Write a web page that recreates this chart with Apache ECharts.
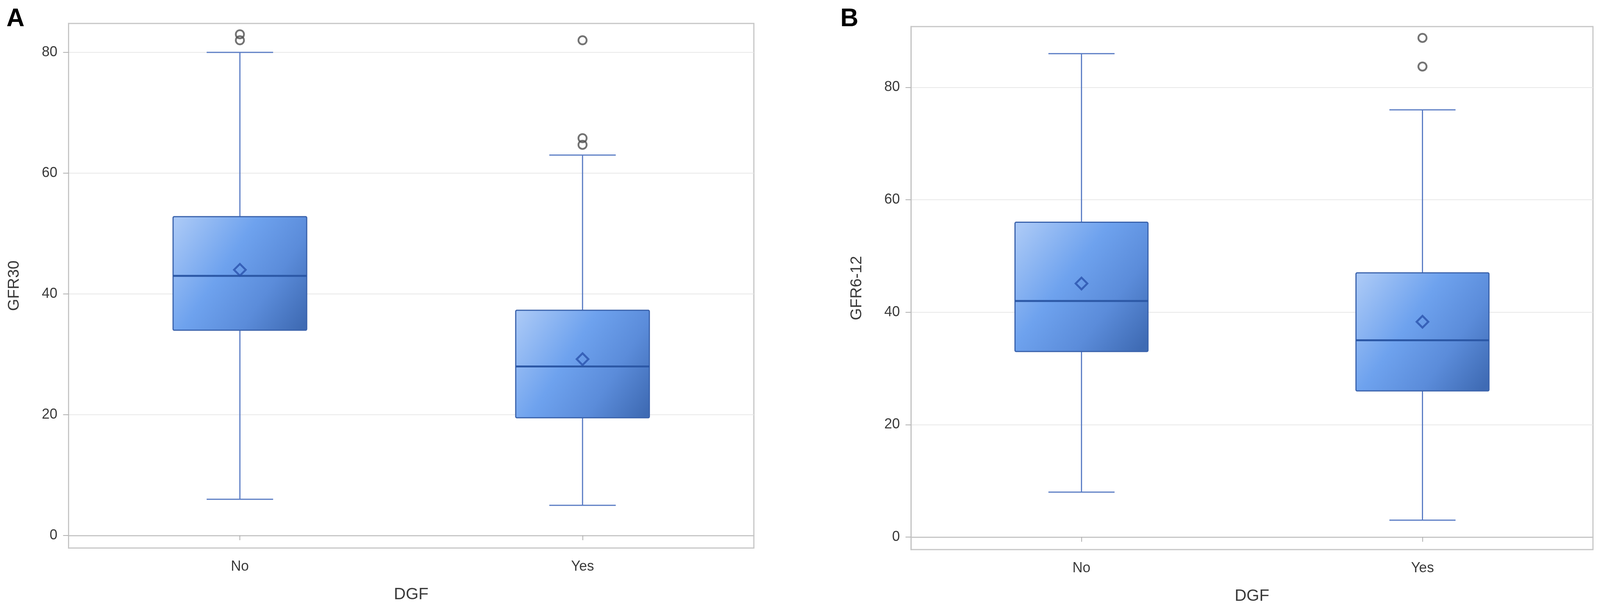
<!DOCTYPE html>
<html>
<head>
<meta charset="utf-8">
<script src="https://cdn.jsdelivr.net/npm/echarts@6/dist/echarts.min.js"></script>
<style>
html,body{margin:0;padding:0;background:#fff;overflow:hidden;}
#chart{width:100vw;height:100vh;}
</style>
</head>
<body>
<div id="chart"></div>
<script>
// ---- data ----
const categories = ['No', 'Yes'];
const yTickValues = [0, 20, 40, 60, 80];
// [lower whisker, Q1, median, Q3, upper whisker]
const gfr30Box = [[6, 34, 43, 52.8, 80], [5, 19.5, 28, 37.3, 63]];
const gfr30Mean = [44, 29.2];
const gfr30Outliers = [[0, 83], [0, 82], [1, 82], [1, 65.8], [1, 64.7]];
const gfr612Box = [[8, 33, 42, 56, 86], [3, 26, 35, 47, 76]];
const gfr612Mean = [45.1, 38.3];
const gfr612Outliers = [[1, 88.8], [1, 83.7]];

const textColor = '#3a3a3a';
const frameColor = '#c6c6c6';
const font = 'Liberation Sans, Arial, sans-serif';

const el = document.getElementById('chart');
const W = el.clientWidth || 4317, H = el.clientHeight || 1558;
const sx = W / 4317, sy = H / 1558;

function renderBox(params, api) {
  const x = api.value(0);
  const lo = api.coord([x, api.value(1)]);
  const q1 = api.coord([x, api.value(2)]);
  const med = api.coord([x, api.value(3)]);
  const q3 = api.coord([x, api.value(4)]);
  const hi = api.coord([x, api.value(5)]);
  const band = api.size([1, 0])[0];
  const bw = band * 0.195, cw = band * 0.097;
  const cx = lo[0];
  const wStyle = {stroke: '#5a7cc4', lineWidth: 3};
  return {
    type: 'group',
    children: [
      {type: 'line', shape: {x1: cx, y1: hi[1], x2: cx, y2: q3[1]}, style: wStyle},
      {type: 'line', shape: {x1: cx, y1: q1[1], x2: cx, y2: lo[1]}, style: wStyle},
      {type: 'line', shape: {x1: cx - cw, y1: hi[1], x2: cx + cw, y2: hi[1]}, style: wStyle},
      {type: 'line', shape: {x1: cx - cw, y1: lo[1], x2: cx + cw, y2: lo[1]}, style: wStyle},
      {type: 'rect', shape: {x: cx - bw, y: q3[1], width: 2 * bw, height: q1[1] - q3[1], r: 3},
        style: {
          fill: {type: 'linear', x: 0, y: 0.1, x2: 1, y2: 0.9, colorStops: [
            {offset: 0, color: '#a9c8f6'},
            {offset: 0.4, color: '#6ea2ee'},
            {offset: 0.7, color: '#5b8cda'},
            {offset: 1, color: '#3f6bb4'}
          ]},
          stroke: '#3b63ac', lineWidth: 3
        }},
      {type: 'line', shape: {x1: cx - bw, y1: med[1], x2: cx + bw, y2: med[1]}, style: {stroke: '#2c58a6', lineWidth: 5}}
    ]
  };
}

function makeAxes(gi, yName, yMin, yMax) {
  const xAxis = {
    type: 'category', gridIndex: gi, data: categories,
    name: 'DGF', nameLocation: 'middle', nameGap: 98 * sy,
    nameTextStyle: {fontSize: 42, color: textColor, fontFamily: font},
    axisLine: {show: true, lineStyle: {color: frameColor, width: 3}},
    axisTick: {show: true, alignWithLabel: true, length: 12, lineStyle: {color: '#b0b0b0', width: 2}},
    axisLabel: {fontSize: 36, color: textColor, fontFamily: font, margin: 30 * sy},
    splitLine: {show: false}
  };
  const yAxis = {
    type: 'value', gridIndex: gi, min: yMin, max: yMax,
    name: yName, nameLocation: 'middle', nameGap: 125 * sx,
    nameTextStyle: {fontSize: 40, color: textColor, fontFamily: font},
    axisLine: {show: true, lineStyle: {color: frameColor, width: 3}},
    axisTick: {show: true, inside: false, length: 14, lineStyle: {color: '#b0b0b0', width: 2}, customValues: yTickValues},
    axisLabel: {fontSize: 36, color: textColor, fontFamily: font, margin: 30 * sx, customValues: yTickValues},
    splitLine: {show: true, lineStyle: {color: '#e8e8e8', width: 2}}
  };
  return {xAxis, yAxis};
}

const a = makeAxes(0, 'GFR30', -2.07, 84.79);
const b = makeAxes(1, 'GFR6-12', -2.23, 90.81);

const option = {
  backgroundColor: '#ffffff',
  animation: false,
  title: [
    {text: 'A', left: 12 * sx, top: 12 * sy, textStyle: {fontSize: 64, fontWeight: 'bold', color: '#000', fontFamily: font}},
    {text: 'B', left: 2262 * sx, top: 12 * sy, textStyle: {fontSize: 64, fontWeight: 'bold', color: '#000', fontFamily: font}}
  ],
  grid: [
    {left: 185 * sx, top: 60 * sy, right: 2283 * sx, bottom: 156 * sy, show: true, borderColor: frameColor, borderWidth: 3, backgroundColor: '#fff'},
    {left: 2458 * sx, top: 68 * sy, right: 19 * sx, bottom: 152 * sy, show: true, borderColor: frameColor, borderWidth: 3, backgroundColor: '#fff'}
  ],
  xAxis: [a.xAxis, b.xAxis],
  yAxis: [a.yAxis, b.yAxis],
  series: [
    {type: 'custom', xAxisIndex: 0, yAxisIndex: 0, renderItem: renderBox,
      data: gfr30Box.map((v, i) => [i].concat(v)), z: 2},
    {type: 'scatter', xAxisIndex: 0, yAxisIndex: 0, symbol: 'diamond', symbolSize: 30,
      itemStyle: {color: 'rgba(0,0,0,0)', borderColor: '#2a52ac', borderWidth: 5},
      data: gfr30Mean.map((v, i) => [i, v]), z: 3},
    {type: 'scatter', xAxisIndex: 0, yAxisIndex: 0, symbol: 'circle', symbolSize: 21,
      itemStyle: {color: 'rgba(0,0,0,0)', borderColor: '#505050', borderWidth: 4.5},
      data: gfr30Outliers, z: 3},
    {type: 'custom', xAxisIndex: 1, yAxisIndex: 1, renderItem: renderBox,
      data: gfr612Box.map((v, i) => [i].concat(v)), z: 2},
    {type: 'scatter', xAxisIndex: 1, yAxisIndex: 1, symbol: 'diamond', symbolSize: 30,
      itemStyle: {color: 'rgba(0,0,0,0)', borderColor: '#2a52ac', borderWidth: 5},
      data: gfr612Mean.map((v, i) => [i, v]), z: 3},
    {type: 'scatter', xAxisIndex: 1, yAxisIndex: 1, symbol: 'circle', symbolSize: 21,
      itemStyle: {color: 'rgba(0,0,0,0)', borderColor: '#505050', borderWidth: 4.5},
      data: gfr612Outliers, z: 3}
  ]
};

const chart = echarts.init(el);
chart.setOption(option);
</script>
</body>
</html>
